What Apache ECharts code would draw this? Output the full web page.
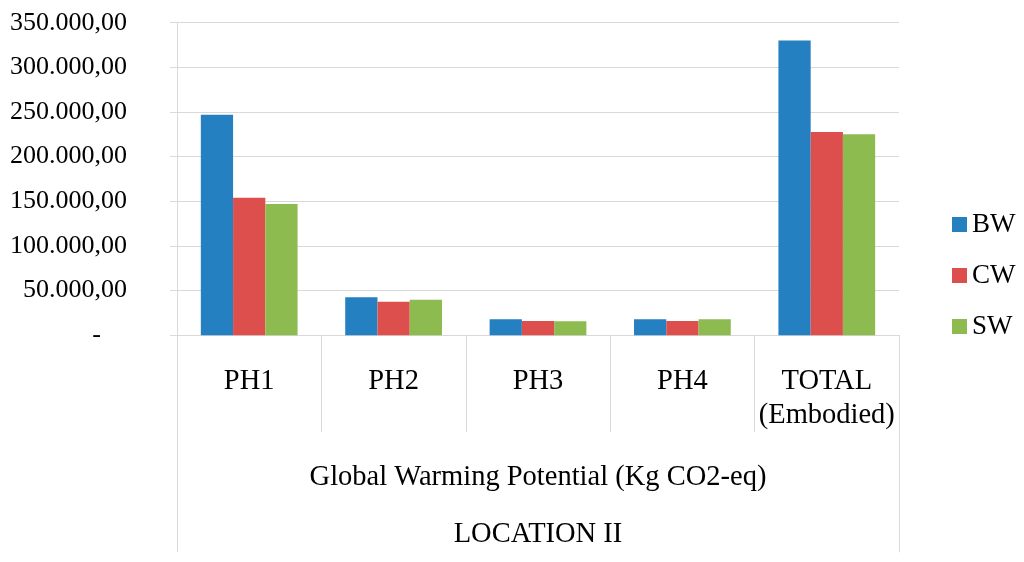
<!DOCTYPE html>
<html>
<head>
<meta charset="utf-8">
<script src="https://cdn.jsdelivr.net/npm/echarts@6/dist/echarts.min.js"></script>
<style>html,body{margin:0;padding:0;background:#fff}#c{width:1024px;height:562px}</style>
</head>
<body>
<div id="c"></div>
<script>
var categories = ['PH1', 'PH2', 'PH3', 'PH4', 'TOTAL\n(Embodied)'];
var groupLabel = ['Global Warming Potential (Kg CO2-eq)'];
var locationLabel = ['LOCATION II'];
var seriesNames = ['BW', 'CW', 'SW'];
var bwValues = [247000, 42500, 17900, 17900, 330000];
var cwValues = [154000, 37600, 16000, 16000, 227500];
var swValues = [147000, 39900, 15700, 17900, 225000];
var yTicks = [0, 50000, 100000, 150000, 200000, 250000, 300000, 350000];

var FONT = '"Liberation Serif", "Times New Roman", serif';
var GRID = '#d9d9d9';
var colors = ['#2480C1', '#DD4F4C', '#8DBB50'];

function fmt(v) {
  if (v === 0) return '-    ';
  var s = Math.round(v).toString().replace(/\B(?=(\d{3})+(?!\d))/g, '.');
  return s + ',00';
}

var chart = echarts.init(document.getElementById('c'));
var vals = [bwValues, cwValues, swValues];
chart.setOption({
  animation: false,
  color: colors,
  grid: { left: 177, right: 125, top: 22.7, bottom: 226.7, containLabel: false },
  legend: {
    orient: 'vertical',
    left: 947,
    top: 206,
    itemWidth: 15,
    itemHeight: 15,
    itemGap: 24,
    icon: 'rect',
    textStyle: { fontFamily: FONT, fontSize: 27, color: '#000' },
    data: seriesNames
  },
  xAxis: [
    {
      type: 'category',
      data: categories,
      axisLine: { show: true, lineStyle: { color: GRID, width: 1 } },
      axisTick: { show: true, length: 97, lineStyle: { color: GRID } },
      axisLabel: { fontFamily: FONT, fontSize: 28.5, color: '#000', margin: 29, lineHeight: 34, interval: 0 }
    },
    {
      type: 'category',
      data: groupLabel,
      position: 'bottom',
      axisLine: { show: false },
      axisTick: { show: true, length: 217, lineStyle: { color: GRID } },
      axisLabel: { fontFamily: FONT, fontSize: 28.5, color: '#000', margin: 125, lineHeight: 34 }
    },
    {
      type: 'category',
      data: locationLabel,
      position: 'bottom',
      axisLine: { show: false },
      axisTick: { show: false },
      axisLabel: { fontFamily: FONT, fontSize: 28.5, color: '#000', margin: 182, lineHeight: 34 }
    }
  ],
  yAxis: {
    type: 'value',
    min: yTicks[0],
    max: yTicks[yTicks.length - 1],
    interval: yTicks[1] - yTicks[0],
    axisLine: { show: true, lineStyle: { color: GRID } },
    axisTick: { show: true, length: 7, lineStyle: { color: GRID } },
    splitLine: { show: true, lineStyle: { color: GRID, width: 1 } },
    axisLabel: { fontFamily: FONT, fontSize: 26, color: '#000', margin: 50, formatter: fmt }
  },
  series: seriesNames.map(function (n, i) {
    return {
      name: n,
      type: 'bar',
      xAxisIndex: 0,
      data: vals[i],
      barGap: '0%',
      barCategoryGap: '33%',
      itemStyle: { color: colors[i] }
    };
  })
});
</script>
</body>
</html>
